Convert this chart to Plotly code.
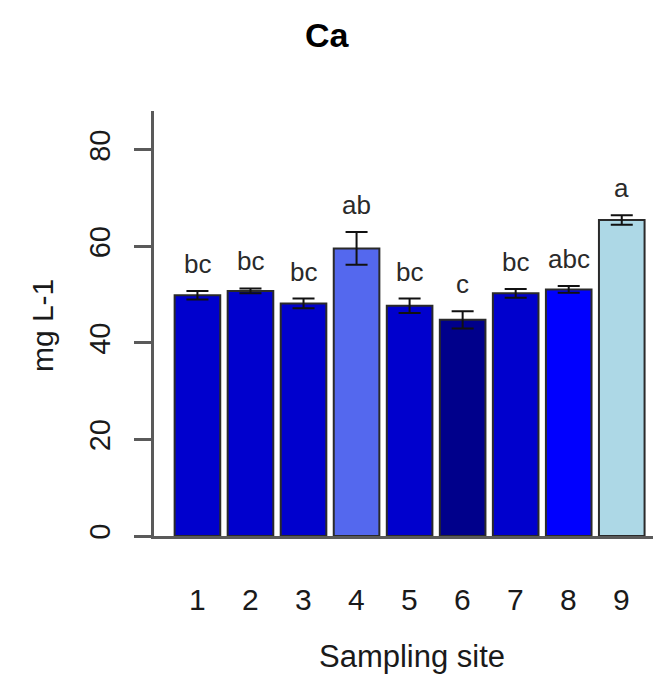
import plotly.graph_objects as go

sites = [1, 2, 3, 4, 5, 6, 7, 8, 9]
site_labels = ["1", "2", "3", "4", "5", "6", "7", "8", "9"]
ca_mean = [49.9, 50.8, 48.2, 59.6, 47.7, 44.8, 50.3, 51.1, 65.5]
ca_se = [0.9, 0.5, 1.0, 3.4, 1.5, 1.8, 0.9, 0.7, 1.0]
letters = ["bc", "bc", "bc", "ab", "bc", "c", "bc", "abc", "a"]
bar_colors = ["#0000CD", "#0000CD", "#0000CD", "#5468EE", "#0000CD",
              "#00008B", "#0000CD", "#0000FF", "#ADD8E6"]
y_ticks = [0, 20, 40, 60, 80]

FONT = "Liberation Sans, Arial, sans-serif"

fig = go.Figure()
fig.add_trace(go.Bar(
    x=sites, y=ca_mean,
    marker=dict(color=bar_colors, line=dict(color="#2a2a2a", width=2)),
    error_y=dict(type="data", array=ca_se, visible=True,
                 color="#111111", thickness=2, width=11),
    width=0.86,
    hoverinfo="skip",
))

# significance letters
for xi, m, s, lab in zip(sites, ca_mean, ca_se, letters):
    fig.add_annotation(x=xi, y=m + s, xref="x", yref="y", text=lab,
                       showarrow=False, yanchor="bottom", yshift=10,
                       font=dict(family=FONT, size=26, color="#2a2a2a"))

# x tick labels
for xi, lab in zip(sites, site_labels):
    fig.add_annotation(x=xi, y=-0.149, xref="x", yref="paper", text=lab,
                       showarrow=False, yanchor="middle",
                       font=dict(family=FONT, size=30, color="#1a1a1a"))

# titles
fig.add_annotation(x=0.3467, y=1.1788, xref="paper", yref="paper",
                   text="<b>Ca</b>", showarrow=False, yanchor="middle",
                   font=dict(family=FONT, size=34, color="#000000"))
fig.add_annotation(x=0.517, y=-0.2847, xref="paper", yref="paper",
                   text="Sampling site", showarrow=False, yanchor="middle",
                   font=dict(family=FONT, size=31, color="#1a1a1a"))
fig.add_annotation(x=-0.2244, y=0.494, xref="paper", yref="paper",
                   text="mg L-1", showarrow=False, textangle=-90,
                   xanchor="center", yanchor="middle",
                   font=dict(family=FONT, size=30, color="#1a1a1a"))

fig.update_layout(
    width=653, height=676,
    margin=dict(l=154, r=0, t=111, b=140),
    paper_bgcolor="white", plot_bgcolor="white",
    showlegend=False,
    bargap=0.14,
    xaxis=dict(range=[0.181, 9.589], showticklabels=False, ticks="",
               showline=True, linecolor="#5a5a5a", linewidth=2.5,
               showgrid=False, zeroline=False, fixedrange=True),
    yaxis=dict(range=[0, 88.08], tickvals=y_ticks,
               ticktext=[str(v) for v in y_ticks],
               tickangle=-90, ticks="outside", ticklen=17, tickwidth=2.5,
               tickcolor="#5a5a5a", showline=True, linecolor="#5a5a5a",
               linewidth=2.5, showgrid=False, zeroline=False,
               tickfont=dict(family=FONT, size=29, color="#1a1a1a"),
               ticklabelstandoff=13, fixedrange=True),
)

fig.write_html("out.html")
